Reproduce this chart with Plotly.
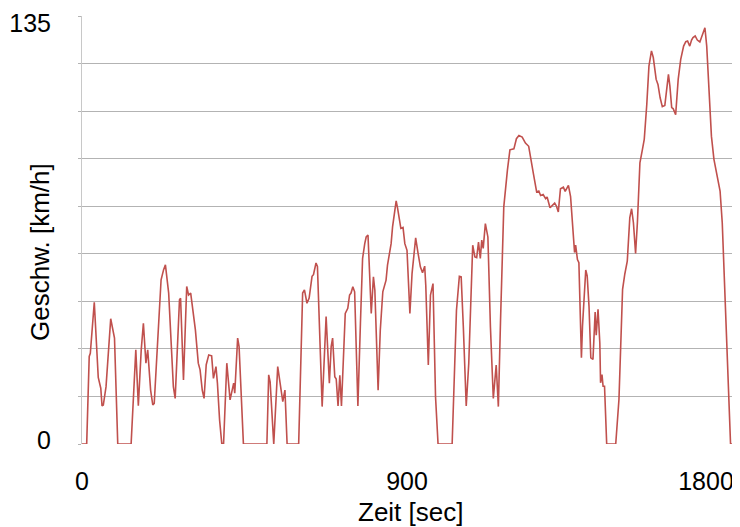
import plotly.graph_objects as go

# WLTC-like speed profile
zeit_sec = [
    0, 13, 20, 23, 34, 45, 52, 55.5, 59, 66.5, 79.5, 85, 90, 99, 136, 149, 156, 164, 170, 177,
    182, 190, 196, 200, 209, 219, 226, 231, 240, 247, 253, 258, 270, 273, 281, 290, 295, 301,
    309, 314, 322, 327, 333, 338, 344, 351, 359, 364, 371, 375, 381, 387, 392, 401, 410, 415,
    420, 423, 431, 435, 447, 512, 517, 521, 531, 542, 552, 556, 562, 568, 600, 611, 616, 623,
    629, 637, 641, 648, 652, 660, 665, 676, 685, 690, 694, 700, 704, 709, 714, 718.5, 725, 729,
    736, 741, 745, 750, 755, 764, 771, 777, 783, 787, 792, 797, 801, 807, 811, 820, 826, 833,
    837, 842, 846, 851, 856, 860, 865, 870, 874, 879, 883, 889, 894, 900, 904, 908, 914, 919,
    924, 930, 937, 943, 949, 952, 955, 959, 965, 972, 979, 986, 1025, 1037, 1045, 1050, 1056,
    1064, 1071, 1078, 1082, 1088, 1093, 1098, 1103, 1107, 1111, 1117, 1124, 1131, 1139, 1147,
    1153, 1159, 1168, 1178, 1185, 1196, 1203, 1210, 1219, 1228, 1237, 1250, 1259, 1265, 1270,
    1277, 1284, 1288, 1296, 1302, 1309, 1314, 1319, 1325, 1333, 1338, 1347, 1353, 1361, 1364,
    1367, 1372, 1376, 1383, 1386, 1395, 1399, 1404, 1409, 1415, 1421, 1424, 1429, 1434, 1436,
    1440, 1443, 1447, 1453, 1478, 1487, 1497, 1503, 1510, 1517, 1522, 1527, 1533, 1538, 1545,
    1552, 1557, 1564, 1570, 1577, 1582, 1590, 1595, 1601, 1607, 1614, 1619, 1624, 1628, 1633,
    1637, 1644, 1651, 1658, 1666, 1672, 1677, 1683, 1688, 1692, 1698, 1704, 1711, 1718, 1725,
    1730, 1737, 1743, 1750, 1760, 1767, 1773, 1780, 1787, 1796, 1800,
]

geschw_kmh = [
    0, 0, 27.6, 28.6, 44.7, 21, 17.6, 12, 12.3, 18, 39.5, 36, 33.4, 0, 0, 29.7, 12.1, 29.7, 38.1, 25.5,
    29.7, 17, 12.3, 12.8, 29.7, 51.8, 55, 56.5, 47.6, 29.7, 18.1, 14.4, 45.5, 46, 20.2, 49.7, 47, 47.6,
    40.2, 36, 25.5, 23.4, 17, 14.4, 25, 28.1, 27.8, 20.7, 24.4, 19.2, 7.6, 0.2, 0, 25.5, 13.9, 17,
    19.2, 16, 33.4, 30.7, 0, 0, 21.8, 19.6, 0, 24.4, 17, 13.4, 17, 0, 0, 47.6, 48.6, 44.4,
    46, 52.9, 53.4, 57.1, 56, 29.7, 11.8, 40.2, 19.2, 30.7, 33.4, 21.2, 20.5, 12, 21.7, 12, 30.7, 41.2,
    42.8, 47, 47.6, 49.6, 48, 12, 38, 58.5, 63.2, 65.3, 65.9, 53.8, 41.2, 52.7, 48.5, 17, 35.9, 48,
    49.6, 51.7, 56.4, 60.6, 63.2, 68.5, 73.2, 76.7, 74.3, 70, 68, 68.3, 63.2, 61.1, 50.6, 41.2, 53.8, 59,
    65, 60.6, 55.9, 54, 56.1, 50, 35.9, 24.9, 47, 50.6, 14.9, 0, 0, 42.2, 52.9, 52.7, 37,
    12, 25.4, 53.8, 62.7, 59, 58.8, 63.7, 58.5, 64.3, 61.7, 69.5, 65.3, 37, 14.4, 24.9,
    11.8, 39, 74.8, 86.3, 92.8, 93.1, 96.3, 97.3, 96.8, 94.9, 93.9, 85.3, 79.5, 79.8, 78.4,
    78.7, 77.4, 77.9, 74.5, 75.2, 76, 75, 73.2, 80.5, 81, 79.7, 81.6, 78, 62.5, 60.4,
    62.7, 58.2, 57.2, 27.2, 37.2, 54.9, 53, 43.5, 27.2, 26.7, 41.6, 34.3, 42.5, 31.8, 19.3,
    21.9, 18.2, 18.2, 0, 0, 14.1, 48.8, 53.5, 57.7, 71.4, 74.2, 69.8, 60.1, 69.8, 88.7,
    92.9, 96.1, 107.1, 119.2, 124, 121.9, 115, 113.4, 109.2, 106.4, 106.8, 111.3, 116.6, 112.9, 106.1,
    105.8, 103.9, 115, 121.3, 125.5, 126.9, 127.1, 125.5, 127.4, 128.2, 128.7, 127.4, 126.8, 129.2, 131.3,
    125.5, 108.7, 97.1, 89.8, 84.5, 79.8, 69.8, 48.8, 29.9, 0, 0,
]

x_min, x_max = 0, 1800
y_min, y_max = 0, 135
x_tickvals = [0, 900]
x_ticktext = ["0", "900"]
x_end_tick = [1800]
x_end_text = ["1800"]
y_grid_vals = [0, 15, 30, 45, 60, 75, 90, 105, 120, 135]
y_grid_text = ["0", "", "", "", "", "", "", "", "", ""]
y_top_tick = [135]
y_top_text = ["135"]

font_family = "Liberation Sans, Arial, sans-serif"

fig = go.Figure()
fig.add_trace(go.Scatter(
    x=zeit_sec, y=geschw_kmh, mode="lines",
    line=dict(color="#C0504D", width=1.6),
    showlegend=False, hoverinfo="skip",
))
# empty helper trace so the overlaid label axes (end labels) are drawn
fig.add_trace(go.Scatter(
    x=[None], y=[None], xaxis="x2", yaxis="y2", mode="lines",
    showlegend=False, hoverinfo="skip",
))

common_x = dict(range=[x_min, x_max], showgrid=False, zeroline=False, showline=False,
                automargin=False, ticks="outside", ticklen=15, tickcolor="rgba(0,0,0,0)",
                tickfont=dict(size=25, family=font_family, color="#000000"),
                ticklabeloverflow="allow")
common_y = dict(range=[y_min, y_max], zeroline=False, automargin=False,
                ticks="outside", ticklen=3, tickcolor="#B3B3B3",
                ticklabelstandoff=22,
                tickfont=dict(size=25, family=font_family, color="#000000"),
                ticklabeloverflow="allow")

# page body has an 8px default margin, so the figure is sized 732x519
fig.update_layout(
    width=732, height=519,
    margin=dict(l=74, r=8, t=8, b=83),
    paper_bgcolor="white", plot_bgcolor="white",
    font=dict(family=font_family, size=25, color="#000000"),
    xaxis=dict(tickmode="array", tickvals=x_tickvals, ticktext=x_ticktext, **common_x),
    xaxis2=dict(tickmode="array", tickvals=x_end_tick, ticktext=x_end_text,
                overlaying="x", side="bottom", ticklabelshift=-26, **common_x),
    yaxis=dict(tickmode="array", tickvals=y_grid_vals, ticktext=y_grid_text,
               showgrid=True, gridcolor="#B3B3B3", gridwidth=1,
               showline=True, linecolor="#C8C8C8", linewidth=1,
               ticklabelshift=-4, **common_y),
    yaxis2=dict(tickmode="array", tickvals=y_top_tick, ticktext=y_top_text,
                overlaying="y", side="left", showgrid=False, showline=False,
                ticklabelshift=7, **common_y),
    annotations=[
        dict(text="Geschw. [km/h]", xref="paper", yref="paper", x=-0.0646, y=0.4486,
             xanchor="center", yanchor="middle", textangle=-90, showarrow=False,
             font=dict(size=26, family=font_family, color="#000000")),
        dict(text="Zeit [sec]", xref="paper", yref="paper", x=0.505, y=-0.159,
             xanchor="center", yanchor="middle", showarrow=False,
             font=dict(size=26, family=font_family, color="#000000")),
    ],
)

fig.write_html("out.html")
